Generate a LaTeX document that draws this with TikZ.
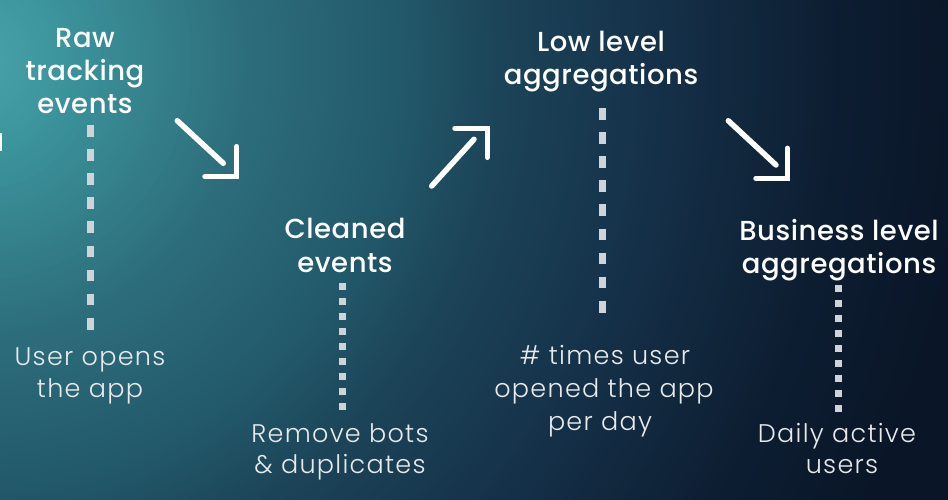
\documentclass[tikz,border=0pt]{standalone}
\usepackage{fontspec}
\setmainfont{Poppins}
\newfontfamily\headfont{Poppins Medium}[LetterSpace=2]
\newfontfamily\subfont{Poppins Light}[LetterSpace=5]
\definecolor{bgA}{HTML}{4AA4AB}
\definecolor{bgB}{HTML}{3B939B}
\definecolor{bgC}{HTML}{2D6D7B}
\definecolor{bgD}{HTML}{22596B}
\definecolor{bgE}{HTML}{1C4458}
\definecolor{bgF}{HTML}{15324A}
\definecolor{bgG}{HTML}{0D1D31}
\definecolor{bgH}{HTML}{0A1628}
\definecolor{bgI}{HTML}{0A1526}
\definecolor{dotgray}{HTML}{CFD3DA}
\definecolor{subtext}{HTML}{E8EAEC}
% ring gradient: inner radius, outer radius, inner colour, outer colour
\newcommand{\bgring}[4]{%
  \foreach \k in {0,...,40}{%
    \pgfmathsetmacro\rr{#2-(#2-#1)*\k/40}%
    \pgfmathtruncatemacro\pp{100-\k*100/40}%
    \fill[#4!\pp!#3] (bgc) circle[radius=\rr];
  }%
}
\tikzset{
  headtext/.style={font=\headfont\fontsize{27.5}{33}\selectfont, text=white, inner sep=0pt, anchor=base},
  subtext/.style={font=\subfont\fontsize{25.5}{32}\selectfont, text=subtext, inner sep=0pt, anchor=base},
  longdots/.style={draw=dotgray, line width=7pt, dash pattern=on 11.7pt off 12.4pt},
  shortdots/.style={draw=dotgray, line width=7pt, dash pattern=on 7pt off 8pt},
  shaft/.style={draw=white, line width=5.5pt, line cap=round},
  arrowhead/.style={draw=white, line width=5.5pt, line cap=round, line join=miter}
}
\begin{document}
\begin{tikzpicture}[x=1pt,y=-1pt]
\useasboundingbox (0,0) rectangle (948,499);
\coordinate (bgc) at (-30,60);
\begin{scope}
  \clip (0,0) rectangle (948,499);
  \fill[bgI] (0,0) rectangle (948,499);
  \bgring{1000}{1150}{bgH}{bgI}
  \bgring{870}{1000}{bgG}{bgH}
  \bgring{680}{870}{bgF}{bgG}
  \bgring{530}{680}{bgE}{bgF}
  \bgring{430}{530}{bgD}{bgE}
  \bgring{280}{430}{bgC}{bgD}
  \bgring{100}{280}{bgB}{bgC}
  \bgring{0}{100}{bgA}{bgB}
\end{scope}
% fragment at left edge
\coordinate (edgeA) at (0.8,133);
\coordinate (edgeB) at (0.8,151);
\draw[white, line width=2pt] (edgeA) -- (edgeB);

% headings
\node[headtext] (h1a) at (85,47) {Raw};
\node[headtext] (h1b) at (85,80) {tracking};
\node[headtext] (h1c) at (85,113) {events};
\node[headtext] (h2a) at (345,238) {Cleaned};
\node[headtext] (h2b) at (345,272) {events};
\node[headtext] (h3a) at (601,51) {Low level};
\node[headtext] (h3b) at (601,84) {aggregations};
\node[headtext] (h4a) at (839,240) {Business level};
\node[headtext] (h4b) at (839,273) {aggregations};

% subtitles
\node[subtext] (s1a) at (90,365) {User opens};
\node[subtext] (s1b) at (90,397) {the app};
\node[subtext] (s2a) at (340,442) {Remove bots};
\node[subtext] (s2b) at (340,473) {\& duplicates};
\node[subtext] (s3a) at (605,364) {\# times user};
\node[subtext] (s3b) at (604,397) {opened the app};
\node[subtext] (s3c) at (600,430) {per day};
\node[subtext] (s4a) at (837,442) {Daily active};
\node[subtext] (s4b) at (842,473) {users};

% dotted connectors
\coordinate (d1t) at (90.5,125);
\coordinate (d1b) at (90.5,330);
\coordinate (d2t) at (342,283);
\coordinate (d2b) at (342,410);
\coordinate (d3t) at (602.7,108);
\coordinate (d3b) at (602.7,313);
\coordinate (d4t) at (838.5,285);
\coordinate (d4b) at (838.5,412);
\draw[longdots] (d1t) -- (d1b);
\draw[shortdots] (d2t) -- (d2b);
\draw[longdots] (d3t) -- (d3b);
\draw[shortdots] (d4t) -- (d4b);

% arrow 1
\coordinate (a1s) at (177.3,120.7);
\coordinate (a1e) at (223.3,163.3);
\coordinate (a1h1) at (205,176.7);
\coordinate (a1c) at (236.7,176.7);
\coordinate (a1h2) at (236.7,146.7);
\draw[shaft] (a1s) -- (a1e);
\draw[arrowhead] (a1h1) -- (a1c) -- (a1h2);
% arrow 2
\coordinate (a2s) at (431.7,186);
\coordinate (a2e) at (474,139.3);
\coordinate (a2h1) at (455,128.3);
\coordinate (a2c) at (487.3,128.3);
\coordinate (a2h2) at (487.3,157.3);
\draw[shaft] (a2s) -- (a2e);
\draw[arrowhead] (a2h1) -- (a2c) -- (a2h2);
% arrow 3
\coordinate (a3s) at (728.3,120.7);
\coordinate (a3e) at (776,165);
\coordinate (a3h1) at (756,178.3);
\coordinate (a3c) at (787.3,178.3);
\coordinate (a3h2) at (787.3,148.3);
\draw[shaft] (a3s) -- (a3e);
\draw[arrowhead] (a3h1) -- (a3c) -- (a3h2);
\end{tikzpicture}
\end{document}
